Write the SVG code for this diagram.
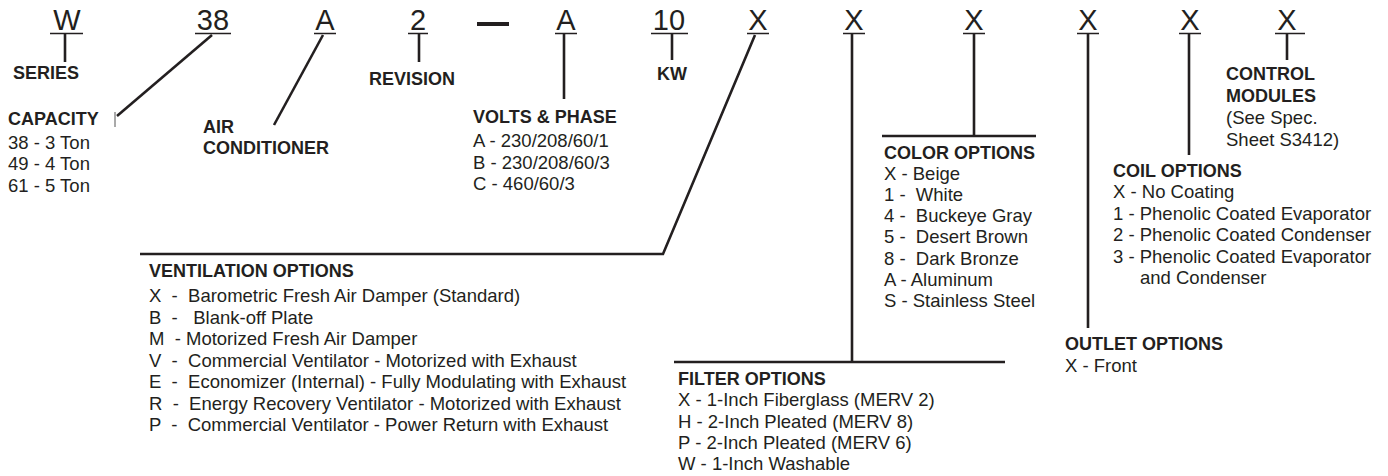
<svg xmlns="http://www.w3.org/2000/svg" width="1388" height="476" viewBox="0 0 1388 476">
<style>
text{font-family:"Liberation Sans",Arial,Helvetica,sans-serif;fill:#231f20;white-space:pre}
.code{font-size:29px}
.h{font-size:18px;font-weight:bold}
.t{font-size:18.5px}
.ul{stroke:#231f20;stroke-width:1.6;fill:none}
.ln{stroke:#231f20;stroke-width:2.6;fill:none;stroke-linejoin:miter}
</style>
<rect width="1388" height="476" fill="#fff"/>
<g id="code">
<text class="code" x="67" y="30" text-anchor="middle">W</text>
<text class="code" x="213" y="30" text-anchor="middle">38</text>
<text class="code" x="325" y="30" text-anchor="middle">A</text>
<text class="code" x="418" y="30" text-anchor="middle">2</text>
<rect x="477" y="22" width="32" height="4" fill="#231f20"/>
<text class="code" x="566" y="30" text-anchor="middle">A</text>
<text class="code" x="669" y="30" text-anchor="middle">10</text>
<text class="code" x="758" y="30" text-anchor="middle">X</text>
<text class="code" x="854" y="30" text-anchor="middle">X</text>
<text class="code" x="974" y="30" text-anchor="middle">X</text>
<text class="code" x="1088" y="30" text-anchor="middle">X</text>
<text class="code" x="1190" y="30" text-anchor="middle">X</text>
<text class="code" x="1287" y="30" text-anchor="middle">X</text>
<path class="ul" d="M50 33.5H83M195 33.5H231M314 33.5H336M408 33.5H428M555 33.5H577M651 33.5H688M747 33.5H769M843 33.5H865M963 33.5H985M1077 33.5H1099M1179 33.5H1201M1275 33.5H1305"/>
</g>
<g id="connectors">
<path class="ln" d="M65 34V62"/>
<path class="ln" d="M212 35L117 116"/>
<path d="M115 112V127" stroke="#555" stroke-width="1" fill="none"/>
<path class="ln" d="M323 35L274 125"/>
<path class="ln" d="M419 34V62"/>
<path class="ln" d="M564 34V99"/>
<path class="ln" d="M672 34V60"/>
<path class="ln" d="M755 35L663 254H140"/>
<path class="ln" d="M852 34V362M674 362H1005"/>
<path class="ln" d="M974 34V136M882 136H1036"/>
<path class="ln" d="M1088 34V328"/>
<path class="ln" d="M1189 34V155"/>
<path class="ln" d="M1287 34V60"/>
</g>
<g id="series"><text class="h" x="13" y="78.5">SERIES</text></g>
<g id="capacity">
<text class="h" x="8" y="124.5">CAPACITY</text>
<text class="t" x="8" y="148.5">38 - 3 Ton</text>
<text class="t" x="8" y="170">49 - 4 Ton</text>
<text class="t" x="8" y="191.5">61 - 5 Ton</text>
</g>
<g id="air-conditioner">
<text class="h" x="203" y="132.5">AIR</text>
<text class="h" x="203" y="154">CONDITIONER</text>
</g>
<g id="revision"><text class="h" x="369" y="84.5">REVISION</text></g>
<g id="volts-phase">
<text class="h" x="473" y="122.5">VOLTS &amp; PHASE</text>
<text class="t" x="473" y="147">A - 230/208/60/1</text>
<text class="t" x="473" y="168.5">B - 230/208/60/3</text>
<text class="t" x="473" y="190">C - 460/60/3</text>
</g>
<g id="kw"><text class="h" x="657" y="80">KW</text></g>
<g id="ventilation">
<text class="h" x="149" y="277">VENTILATION OPTIONS</text>
<text class="t" x="149" y="302">X  -  Barometric Fresh Air Damper (Standard)</text>
<text class="t" x="149" y="323.5">B  -   Blank-off Plate</text>
<text class="t" x="149" y="345">M  - Motorized Fresh Air Damper</text>
<text class="t" x="149" y="366.5">V  -  Commercial Ventilator - Motorized with Exhaust</text>
<text class="t" x="149" y="388">E  -  Economizer (Internal) - Fully Modulating with Exhaust</text>
<text class="t" x="149" y="409.5">R  -  Energy Recovery Ventilator - Motorized with Exhaust</text>
<text class="t" x="149" y="431">P  -  Commercial Ventilator - Power Return with Exhaust</text>
</g>
<g id="filter">
<text class="h" x="678" y="384.5">FILTER OPTIONS</text>
<text class="t" x="678" y="406">X - 1-Inch Fiberglass (MERV 2)</text>
<text class="t" x="678" y="427.5">H - 2-Inch Pleated (MERV 8)</text>
<text class="t" x="678" y="449">P - 2-Inch Pleated (MERV 6)</text>
<text class="t" x="678" y="470">W - 1-Inch Washable</text>
</g>
<g id="color">
<text class="h" x="884" y="158.5">COLOR OPTIONS</text>
<text class="t" x="884" y="179.5">X - Beige</text>
<text class="t" x="884" y="200.8">1 -  White</text>
<text class="t" x="884" y="222.1">4 -  Buckeye Gray</text>
<text class="t" x="884" y="243.4">5 -  Desert Brown</text>
<text class="t" x="884" y="264.7">8 -  Dark Bronze</text>
<text class="t" x="884" y="286">A - Aluminum</text>
<text class="t" x="884" y="307.3">S - Stainless Steel</text>
</g>
<g id="outlet">
<text class="h" x="1065" y="350">OUTLET OPTIONS</text>
<text class="t" x="1065" y="372">X - Front</text>
</g>
<g id="coil">
<text class="h" x="1113" y="176.5">COIL OPTIONS</text>
<text class="t" x="1113" y="198">X - No Coating</text>
<text class="t" x="1113" y="219.5">1 - Phenolic Coated Evaporator</text>
<text class="t" x="1113" y="241">2 - Phenolic Coated Condenser</text>
<text class="t" x="1113" y="262.5">3 - Phenolic Coated Evaporator</text>
<text class="t" x="1140" y="284">and Condenser</text>
</g>
<g id="control-modules">
<text class="h" x="1226" y="80">CONTROL</text>
<text class="h" x="1226" y="102">MODULES</text>
<text class="t" x="1226" y="124">(See Spec.</text>
<text class="t" x="1226" y="146">Sheet S3412)</text>
</g>
</svg>
